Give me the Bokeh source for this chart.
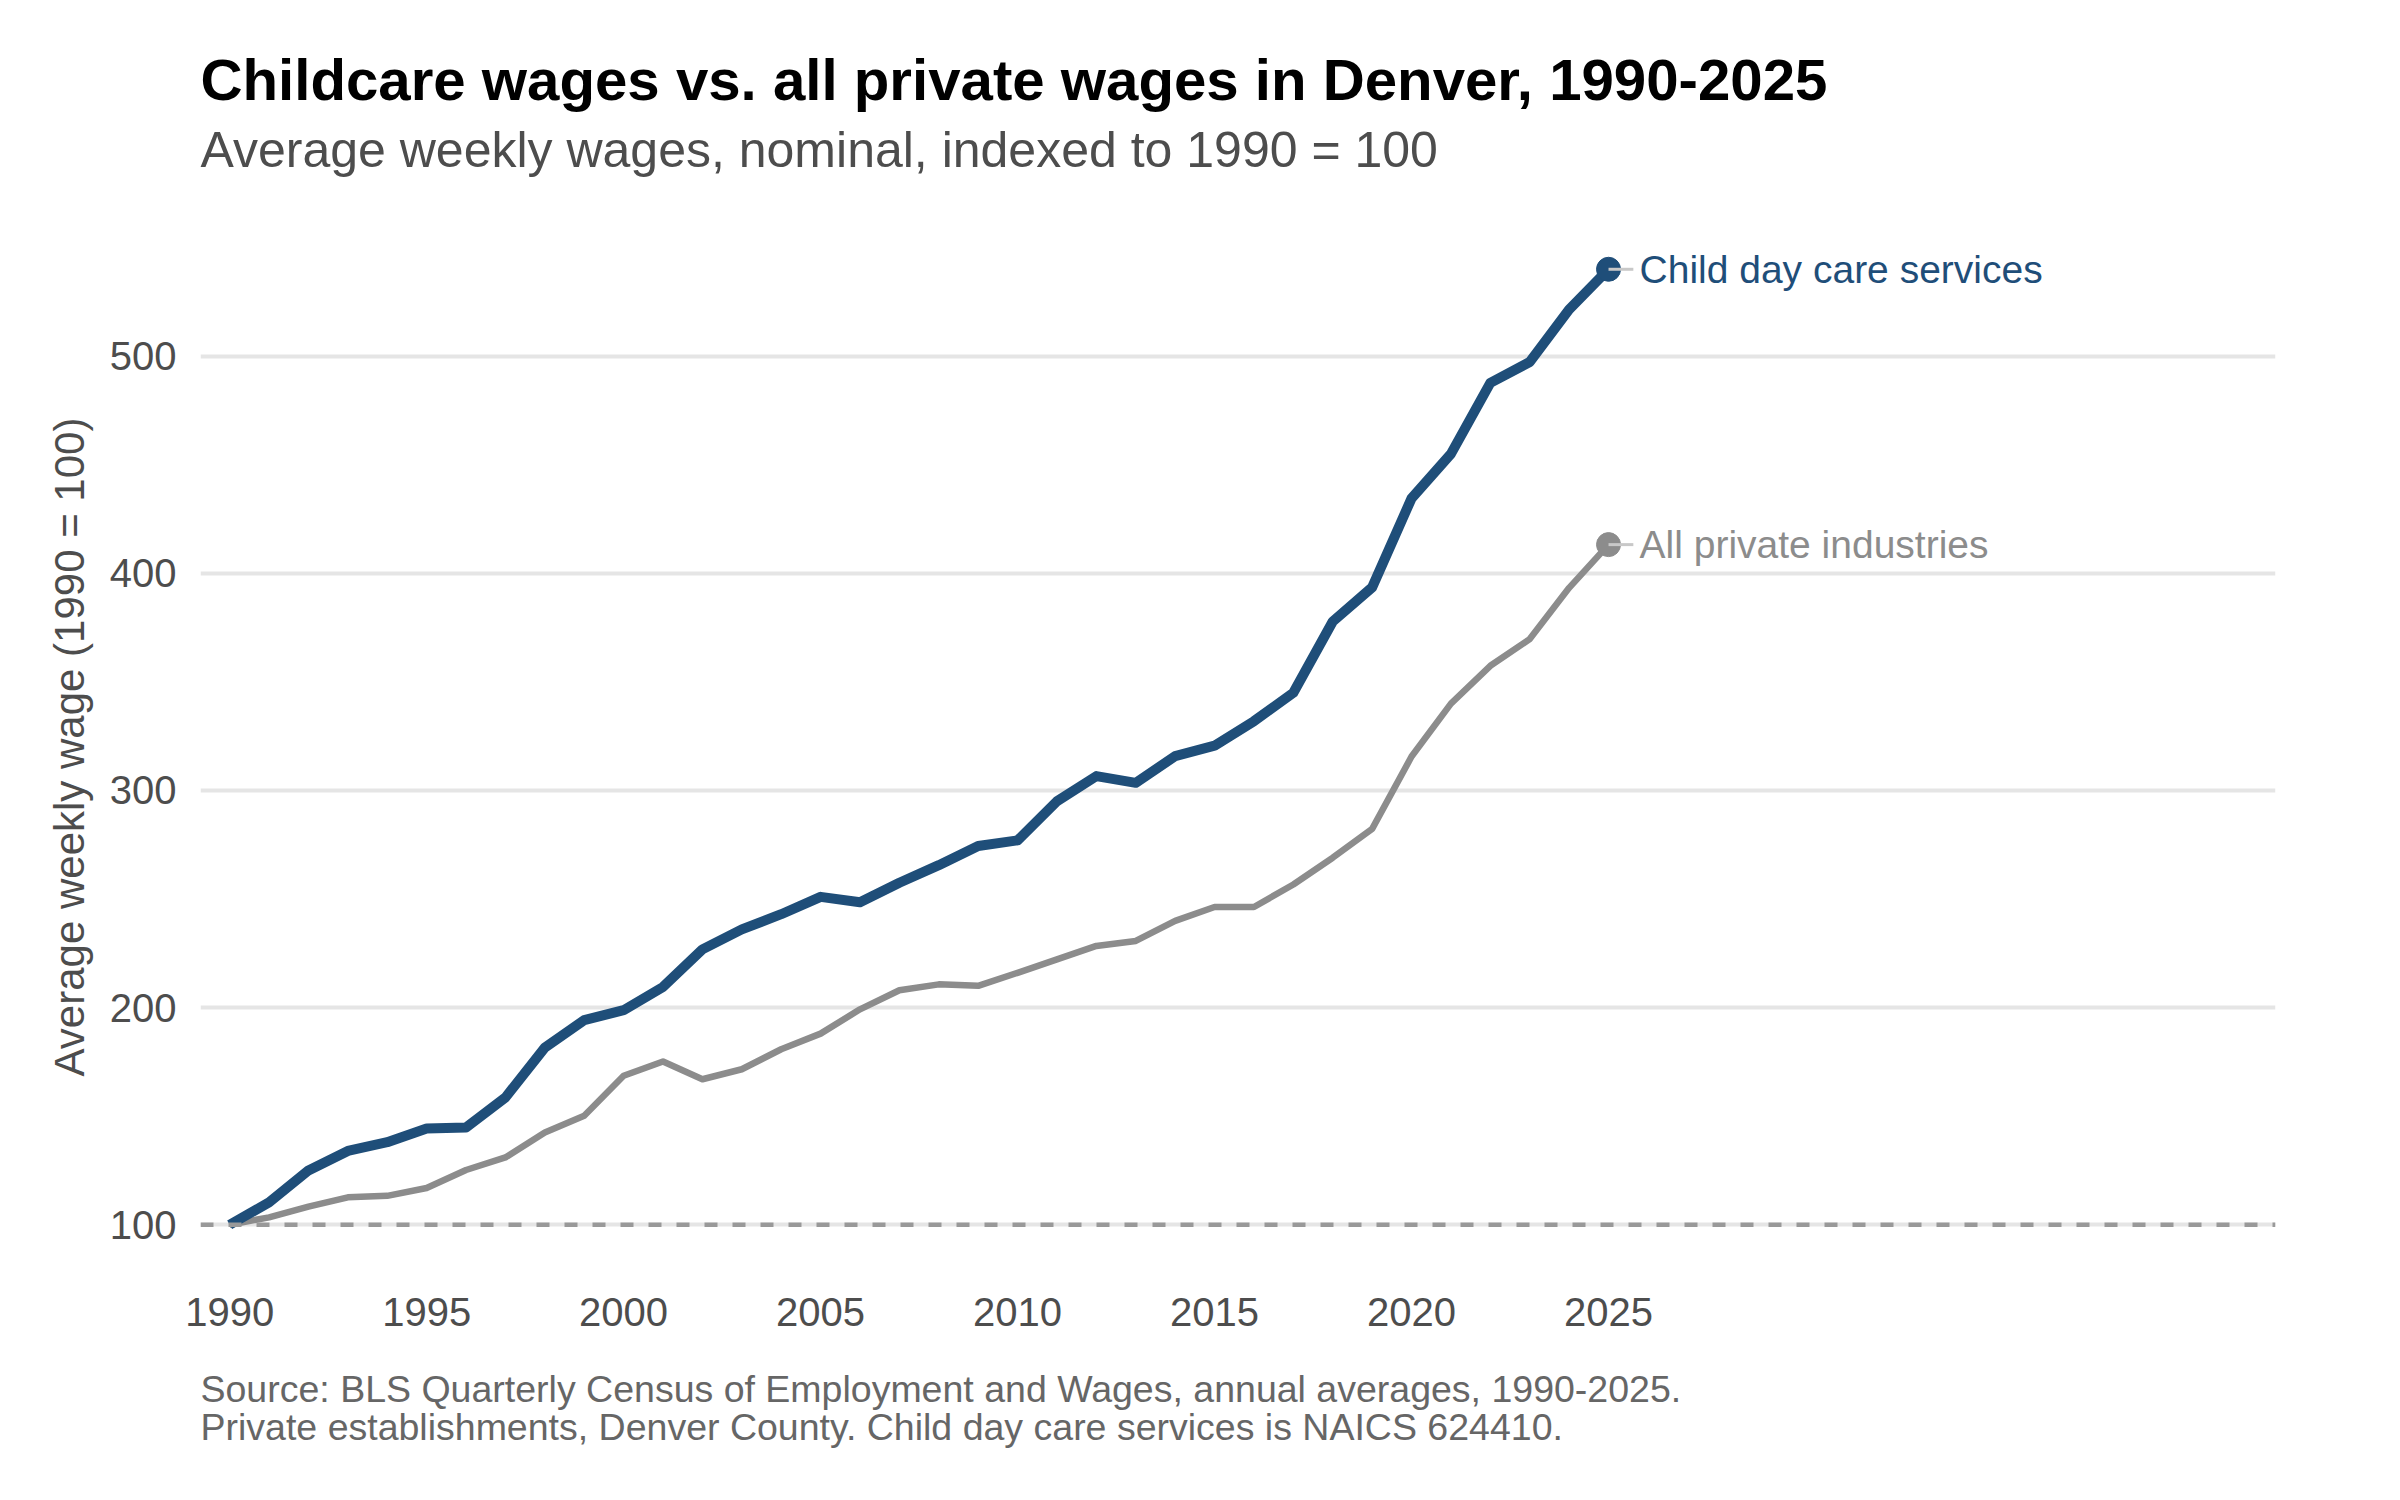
from bokeh.plotting import figure
from bokeh.models import Range1d, FixedTicker, Span, Title, ColumnDataSource
from bokeh.core.properties import value
from bokeh.embed import file_html
from bokeh.resources import INLINE

# ---------------- data ----------------
years = [1990, 1991, 1992, 1993, 1994, 1995, 1996, 1997, 1998, 1999,
         2000, 2001, 2002, 2003, 2004, 2005, 2006, 2007, 2008, 2009,
         2010, 2011, 2012, 2013, 2014, 2015, 2016, 2017, 2018, 2019,
         2020, 2021, 2022, 2023, 2024, 2025]
childcare = [100, 110.3, 125.0, 134.0, 138.0, 144.3, 144.8, 158.6, 181.6, 194.2,
             198.8, 209.5, 226.8, 236.0, 243.0, 251.0, 248.5, 257.5, 265.6, 274.4,
             277.0, 295.0, 306.6, 303.5, 315.8, 320.6, 331.9, 345.0, 377.8, 393.5,
             434.5, 455.0, 487.7, 497.3, 521.5, 540.0]
all_private = [100, 103.4, 108.3, 112.6, 113.3, 116.9, 125.2, 131.0, 142.5, 150.2,
               168.6, 175.2, 167.0, 171.6, 180.8, 188.0, 199.2, 208.0, 210.7, 210.0,
               216.0, 222.2, 228.4, 230.7, 239.9, 246.3, 246.3, 256.7, 269.0, 282.3,
               315.6, 340.0, 357.4, 369.7, 393.3, 413.2]
series_names = ["Child day care services", "All private industries"]
y_ticks = [100, 200, 300, 400, 500]
x_ticks = [1990, 1995, 2000, 2005, 2010, 2015, 2020, 2025]

title_text = "Childcare wages vs. all private wages in Denver, 1990-2025"
subtitle_text = "Average weekly wages, nominal, indexed to 1990 = 100"
caption_lines = ["Source: BLS Quarterly Census of Employment and Wages, annual averages, 1990-2025.",
                 "Private establishments, Denver County. Child day care services is NAICS 624410."]
y_label = "Average weekly wage (1990 = 100)"

BLUE = "#1f4e79"
GRAY = "#8c8c8c"
FONT = "Liberation Sans"

W, H = 2384, 1484
BL, BR, BT, BB = 200, 109, 221, 212

p = figure(width=W, height=H, output_backend="svg", toolbar_location=None,
           x_range=Range1d(1989.26, 2041.93), y_range=Range1d(78, 562),
           min_border_left=BL, min_border_right=BR, min_border_top=BT, min_border_bottom=BB)
p.title.text = ""
p.outline_line_color = None
p.background_fill_color = "white"
p.border_fill_color = "white"

# grid
p.xgrid.grid_line_color = None
p.ygrid.grid_line_color = "#e5e5e5"
p.ygrid.grid_line_width = 4
p.yaxis.ticker = FixedTicker(ticks=y_ticks)
p.xaxis.ticker = FixedTicker(ticks=x_ticks)

for ax in (p.xaxis, p.yaxis):
    ax.axis_line_color = None
    ax.major_tick_line_color = None
    ax.minor_tick_line_color = None
    ax.major_tick_out = 0
    ax.major_tick_in = 0
    ax.minor_tick_out = 0
    ax.minor_tick_in = 0
    ax.major_label_text_font = FONT
    ax.major_label_text_font_size = "40px"
    ax.major_label_text_color = "#4d4d4d"

p.xaxis.major_label_standoff = 25
p.yaxis.major_label_standoff = 24
p.yaxis.axis_label = y_label
p.yaxis.axis_label_text_font = FONT
p.yaxis.axis_label_text_font_size = "42px"
p.yaxis.axis_label_text_font_style = "normal"
p.yaxis.axis_label_text_color = "#4d4d4d"
p.yaxis.axis_label_standoff = 14

# reference line at 100
p.add_layout(Span(location=y_ticks[0], dimension="width", line_color="#999999",
                  line_width=4.5, line_dash="13 15"))

# lines
p.line(years, all_private, line_color=GRAY, line_width=6.5, line_join="round")
p.line(years, childcare, line_color=BLUE, line_width=10, line_join="round")

# end points
end_x = [years[-1], years[-1]]
end_y = [childcare[-1], all_private[-1]]
colors = [BLUE, GRAY]
p.scatter(end_x, end_y, size=24, fill_color=colors, line_color=colors)

# connector segments (label-repel style)
seg_len = 0.63
p.segment(x0=end_x, y0=end_y, x1=[x + seg_len for x in end_x], y1=end_y,
          line_color="#c8c8c8", line_width=3)

src = ColumnDataSource(dict(x=end_x, y=end_y, t=series_names, c=colors))
p.text(x="x", y="y", text="t", source=src, text_color="c", x_offset=31,
       text_align="left", text_baseline="middle",
       text_font=value(FONT), text_font_size="39px")

def ttl(txt, size, color, standoff, style="normal", lh=1.0):
    return Title(text=txt, align="left", offset=0, standoff=standoff,
                 text_font=FONT, text_font_size=size, text_font_style=style,
                 text_color=color, text_line_height=lh)

# above: spacer (nearest frame), subtitle, title
p.add_layout(ttl(" ", "10px", "white", 21.5), "above")
p.add_layout(ttl(subtitle_text, "50px", "#4d4d4d", 16.6), "above")
p.add_layout(ttl(title_text, "58.2px", "black", 0, "bold"), "above")

# below: axis, spacer, two-line caption
p.add_layout(ttl(" ", "10px", "white", 25.2), "below")
p.add_layout(ttl("\n".join(caption_lines), "37.5px", "#666666", 0, lh=0.907), "below")

open("out.html", "w").write(file_html(p, INLINE))
